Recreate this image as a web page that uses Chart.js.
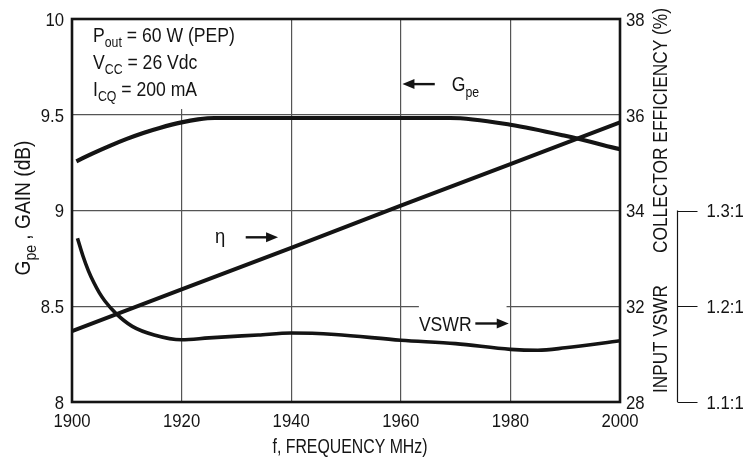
<!DOCTYPE html>
<html><head><meta charset="utf-8">
<script src="https://cdn.jsdelivr.net/npm/chart.js@4/dist/chart.umd.min.js"></script>
<style>html,body{margin:0;padding:0;background:#fff;} #wrap{width:746px;height:464px;}</style>
</head><body><div id="wrap"><canvas id="c" width="746" height="464"></canvas></div>
<script>
// ---- data ----
const frequencyTicks = [1900, 1920, 1940, 1960, 1980, 2000];
const gainTicks = [8, 8.5, 9, 9.5, 10];
const gainTickLabels = ['8', '8.5', '9', '9.5', '10'];
const efficiencyTicks = [30, 32, 34, 36, 38];
const efficiencyTickLabels = ['28', '32', '34', '36', '38'];
const vswrTicks = [1.1, 1.2, 1.3];
const vswrTickLabels = ['1.1:1', '1.2:1', '1.3:1'];

const gainFreq   = [1900.8, 1904, 1907, 1910, 1913, 1916, 1920, 1923, 1926, 1969, 1980, 1990, 2000];
const gainValues = [9.257, 9.301, 9.339, 9.374, 9.405, 9.431, 9.460, 9.4755, 9.483, 9.483, 9.448, 9.39, 9.32];

const effFreq   = [1900, 1920, 1940, 1960, 1980, 2000];
const effValues = [31.48, 32.35, 33.22, 34.10, 34.97, 35.84];

const vswrFreq   = [1901, 1902, 1903, 1904, 1905, 1906, 1908, 1911, 1915, 1920, 1925, 1934, 1940, 1948, 1960, 1970, 1980, 1985, 1990, 2000];
const vswrValues = [1.271, 1.2525, 1.237, 1.2245, 1.214, 1.2055, 1.1926, 1.179, 1.170, 1.165, 1.167, 1.170, 1.172, 1.1705, 1.1645, 1.161, 1.155, 1.154, 1.1566, 1.164];

// ---- drawing ----
const FONT = '"Liberation Sans", Arial, Helvetica, sans-serif';
const SX = 0.88;           // horizontal condensing of the lettering
const INK = '#141414';
const pts = (xs, ys) => xs.map((v, i) => ({x: v, y: ys[i]}));

function drawParts(ctx, x, y, parts, size, opts) {
  opts = opts || {};
  const subSize = Math.round(size * 0.72);
  ctx.save();
  ctx.translate(x, y);
  if (opts.rot) ctx.rotate(opts.rot);
  const widths = parts.map(([t, s]) => { ctx.font = (s ? subSize : size) + 'px ' + FONT; return ctx.measureText(t).width; });
  const total = widths.reduce((a, b) => a + b, 0);
  const sx = opts.width ? opts.width / total : SX;
  ctx.scale(sx, 1);
  ctx.textAlign = 'left';
  ctx.textBaseline = 'alphabetic';
  let cx = opts.align === 'center' ? -total / 2 : opts.align === 'right' ? -total : 0;
  parts.forEach(([t, s], i) => {
    ctx.font = (s ? subSize : size) + 'px ' + FONT;
    ctx.fillText(t, cx, s ? size * 0.27 : 0);
    cx += widths[i];
  });
  ctx.restore();
}
const txt = (ctx, x, y, s, size, opts) => drawParts(ctx, x, y, [[s, false]], size, opts);

function arrow(ctx, x1, y1, x2, y2) {
  const dir = Math.sign(x2 - x1);
  ctx.lineWidth = 2.4;
  ctx.beginPath(); ctx.moveTo(x1, y1); ctx.lineTo(x2 - dir * 8, y2); ctx.stroke();
  ctx.beginPath(); ctx.moveTo(x2, y2); ctx.lineTo(x2 - dir * 12, y2 - 5); ctx.lineTo(x2 - dir * 12, y2 + 5); ctx.closePath(); ctx.fill();
}

const decor = {
  id: 'decor',
  beforeDatasetsDraw(chart) {
    const {ctx, chartArea: a, scales: {x, y}} = chart;
    ctx.save();
    ctx.fillStyle = '#fff';
    ctx.fillRect(a.left + 1, a.top + 1, x.getPixelForValue(1932) - a.left, y.getPixelForValue(9.535) - a.top);
    ctx.fillRect(x.getPixelForValue(1963.3), y.getPixelForValue(8.53), x.getPixelForValue(1979.3) - x.getPixelForValue(1963.3), 30);
    ctx.restore();
  },
  afterDatasetsDraw(chart) {
    const {ctx, chartArea: a, scales: {x, y, eff, vswr}} = chart;
    ctx.save();
    ctx.fillStyle = INK; ctx.strokeStyle = INK;
    // frame
    ctx.lineWidth = 2.6;
    ctx.strokeRect(a.left, a.top, a.right - a.left, a.bottom - a.top);

    // tick labels
    const TS = 19, CAP = 6.8;
    x.ticks.forEach(t => txt(ctx, x.getPixelForValue(t.value), a.bottom + 25, String(t.value), TS, {align: 'center'}));
    y.ticks.forEach((t, i) => txt(ctx, a.left - 8, y.getPixelForValue(t.value) + CAP, gainTickLabels[i], TS, {align: 'right'}));
    eff.ticks.forEach((t, i) => txt(ctx, eff.left + 6, eff.getPixelForValue(t.value) + CAP, efficiencyTickLabels[i], TS));
    // VSWR bracket axis
    ctx.lineWidth = 1.2;
    const vx = vswr.left + 0.5;
    ctx.beginPath();
    ctx.moveTo(vx, vswr.getPixelForValue(1.3));
    ctx.lineTo(vx, vswr.getPixelForValue(1.1));
    vswr.ticks.forEach(t => { const py = Math.round(vswr.getPixelForValue(t.value)) + 0.5; ctx.moveTo(vx, py); ctx.lineTo(vx + 20, py); });
    ctx.stroke();
    vswr.ticks.forEach((t, i) => txt(ctx, vx + 29, vswr.getPixelForValue(t.value) + CAP, vswrTickLabels[i], TS));

    // condition box text
    const bx = a.left + 21;
    drawParts(ctx, bx, a.top + 23, [['P', false], ['out', true], [' = 60 W (PEP)', false]], 20);
    drawParts(ctx, bx, a.top + 50, [['V', false], ['CC', true], [' = 26 Vdc', false]], 20);
    drawParts(ctx, bx, a.top + 77, [['I', false], ['CQ', true], [' = 200 mA', false]], 20);
    // Gpe label
    const gy = y.getPixelForValue(9.66);
    arrow(ctx, x.getPixelForValue(1966.2), gy, x.getPixelForValue(1960.3), gy);
    drawParts(ctx, x.getPixelForValue(1969.3), gy + 7, [['G', false], ['pe', true]], 20);
    // eta label
    const ey = y.getPixelForValue(8.86);
    txt(ctx, x.getPixelForValue(1926.1), ey + 6, '\u03B7', 21);
    arrow(ctx, x.getPixelForValue(1931.7), ey, x.getPixelForValue(1937.6), ey);
    // VSWR label
    const vy = y.getPixelForValue(8.410);
    txt(ctx, x.getPixelForValue(1963.3), vy + 7.5, 'VSWR', 20);
    arrow(ctx, x.getPixelForValue(1973.6), vy, x.getPixelForValue(1979.7), vy);

    // axis titles
    txt(ctx, (a.left + a.right) / 2 + 4, 453, 'f, FREQUENCY MHz)', 20, {align: 'center', width: 155});
    drawParts(ctx, 30, 208, [['G', false], ['pe', true], [' , GAIN (dB)', false]], 22, {align: 'center', rot: -Math.PI / 2, width: 135});
    txt(ctx, 667, 253, 'COLLECTOR EFFICIENCY (%)', 21, {rot: -Math.PI / 2, width: 245});
    txt(ctx, 667, 393, 'INPUT VSWR', 21, {rot: -Math.PI / 2, width: 108});
    ctx.restore();
  }
};

const setTicks = arr => scale => { scale.ticks = arr.map(v => ({value: v})); };
const gridStyle = {color: '#555', lineWidth: 1.2, drawTicks: false};

new Chart(document.getElementById('c'), {
  type: 'line',
  data: {
    datasets: [
      {label: 'Gpe', data: pts(gainFreq, gainValues), yAxisID: 'y', borderColor: INK, borderWidth: 4.2, pointRadius: 0, cubicInterpolationMode: 'monotone', fill: false},
      {label: 'Efficiency', data: pts(effFreq, effValues), yAxisID: 'eff', borderColor: INK, borderWidth: 4, pointRadius: 0, tension: 0, fill: false},
      {label: 'VSWR', data: pts(vswrFreq, vswrValues), yAxisID: 'vswr', borderColor: INK, borderWidth: 3.6, pointRadius: 0, cubicInterpolationMode: 'monotone', fill: false}
    ]
  },
  options: {
    responsive: false, animation: false,
    layout: {padding: {top: 19, left: 0, right: 0, bottom: 0}},
    plugins: {legend: {display: false}, tooltip: {enabled: false}},
    scales: {
      x: {
        type: 'linear', min: 1900, max: 2000,
        afterBuildTicks: setTicks(frequencyTicks),
        grid: gridStyle, border: {display: false},
        ticks: {display: false},
        afterFit: s => { s.height = 62; }
      },
      y: {
        type: 'linear', position: 'left', min: 8, max: 10,
        afterBuildTicks: setTicks(gainTicks),
        grid: gridStyle, border: {display: false},
        ticks: {display: false},
        afterFit: s => { s.width = 72; }
      },
      eff: {
        type: 'linear', position: 'right', weight: 0, min: 30, max: 38,
        afterBuildTicks: setTicks(efficiencyTicks),
        grid: {display: false, drawTicks: false}, border: {display: false},
        ticks: {display: false},
        afterFit: s => { s.width = 57; }
      },
      vswr: {
        type: 'linear', position: 'right', weight: 1, min: 1.1, max: 1.5,
        afterBuildTicks: setTicks(vswrTicks),
        grid: {display: false, drawTicks: false}, border: {display: false},
        ticks: {display: false},
        afterFit: s => { s.width = 69; }
      }
    }
  },
  plugins: [decor]
});
</script>
</body></html>
